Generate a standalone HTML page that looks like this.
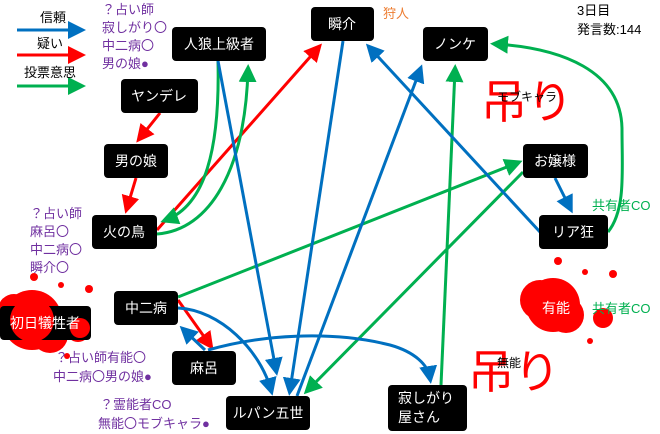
<!DOCTYPE html>
<html><head><meta charset="utf-8"><style>
body{margin:0;background:#fff;}
svg{display:block;font-family:"Liberation Sans","Noto Sans CJK JP",sans-serif;}
.n{fill:#000;}
.t{fill:#fff;font-size:14px;text-anchor:middle;}
.p{fill:#7030a0;font-size:13px;}
</style></head><body>
<svg width="660" height="434" viewBox="0 0 660 434" xmlns="http://www.w3.org/2000/svg">
<defs>
<marker id="b" markerWidth="6" markerHeight="6" refX="4" refY="3" orient="auto" markerUnits="strokeWidth"><path d="M0,0L6,3L0,6z" fill="#0070c0"/></marker>
<marker id="r" markerWidth="6" markerHeight="6" refX="4" refY="3" orient="auto" markerUnits="strokeWidth"><path d="M0,0L6,3L0,6z" fill="#ff0000"/></marker>
<marker id="g" markerWidth="6" markerHeight="6" refX="4" refY="3" orient="auto" markerUnits="strokeWidth"><path d="M0,0L6,3L0,6z" fill="#00b050"/></marker>
</defs>
<g fill="none" stroke-width="3">
<!-- legend -->
<line x1="17" y1="30" x2="80" y2="30" stroke="#0070c0" marker-end="url(#b)"/>
<line x1="17" y1="55" x2="80" y2="55" stroke="#ff0000" marker-end="url(#r)"/>
<line x1="17" y1="86" x2="80" y2="86" stroke="#00b050" marker-end="url(#g)"/>
<!-- red -->
<line x1="160" y1="113" x2="140" y2="138" stroke="#f00" marker-end="url(#r)"/>
<line x1="136" y1="178" x2="127" y2="208" stroke="#f00" marker-end="url(#r)"/>
<line x1="157" y1="230" x2="318" y2="48" stroke="#f00" marker-end="url(#r)"/>
<line x1="178" y1="300" x2="210" y2="345" stroke="#f00" marker-end="url(#r)"/>
<!-- green -->
<path d="M218,61 C220,150 205,205 166,220" stroke="#00b050" marker-end="url(#g)"/>
<path d="M157,234 C210,230 245,170 248,70" stroke="#00b050" marker-end="url(#g)"/>
<line x1="178" y1="297" x2="517" y2="163" stroke="#00b050" marker-end="url(#g)"/>
<line x1="523" y1="172" x2="308" y2="390" stroke="#00b050" marker-end="url(#g)"/>
<line x1="441" y1="385" x2="455" y2="70" stroke="#00b050" marker-end="url(#g)"/>
<path d="M608,232 C626,210 622,170 622,130 C622,70 560,48 496,44" stroke="#00b050" marker-end="url(#g)"/>
<!-- blue -->
<line x1="218" y1="61" x2="276" y2="370" stroke="#0070c0" marker-end="url(#b)"/>
<line x1="343" y1="41" x2="290" y2="390" stroke="#0070c0" marker-end="url(#b)"/>
<line x1="297" y1="396" x2="420" y2="70" stroke="#0070c0" marker-end="url(#b)"/>
<line x1="540" y1="232" x2="370" y2="48" stroke="#0070c0" marker-end="url(#b)"/>
<line x1="555" y1="178" x2="570" y2="208" stroke="#0070c0" marker-end="url(#b)"/>
<line x1="205" y1="350" x2="184" y2="330" stroke="#0070c0" marker-end="url(#b)"/>
<path d="M178,308 C220,310 260,350 271,390" stroke="#0070c0" marker-end="url(#b)"/>
<path d="M208,350 C260,335 330,330 390,345 C415,352 428,365 430,378" stroke="#0070c0" marker-end="url(#b)"/>
</g>
<!-- blood -->
<g fill="#ff0000">
<circle cx="32" cy="320" r="30"/><circle cx="14" cy="310" r="16"/><circle cx="50" cy="335" r="18"/>
<circle cx="78" cy="330" r="12"/><circle cx="34" cy="277" r="4"/><circle cx="61" cy="285" r="3"/><circle cx="89" cy="289" r="4"/><circle cx="67" cy="356" r="3"/>
<circle cx="553" cy="305" r="27"/><circle cx="540" cy="300" r="20"/><circle cx="566" cy="315" r="18"/>
<circle cx="603" cy="318" r="10"/><circle cx="558" cy="261" r="4"/><circle cx="585" cy="272" r="3"/><circle cx="613" cy="274" r="4"/><circle cx="590" cy="341" r="3"/>
</g>
<!-- nodes -->
<rect class="n" x="172" y="27" width="94" height="34" rx="4"/><text class="t" x="219" y="49">人狼上級者</text>
<rect class="n" x="311" y="7" width="63" height="34" rx="4"/><text class="t" x="342" y="29">瞬介</text>
<rect class="n" x="423" y="27" width="65" height="34" rx="4"/><text class="t" x="455" y="49">ノンケ</text>
<rect class="n" x="121" y="79" width="77" height="34" rx="4"/><text class="t" x="159" y="101">ヤンデレ</text>
<rect class="n" x="104" y="144" width="64" height="34" rx="4"/><text class="t" x="136" y="166">男の娘</text>
<rect class="n" x="523" y="144" width="65" height="34" rx="4"/><text class="t" x="555" y="166">お嬢様</text>
<rect class="n" x="92" y="215" width="65" height="34" rx="4"/><text class="t" x="124" y="237">火の鳥</text>
<rect class="n" x="539" y="215" width="69" height="34" rx="4"/><text class="t" x="573" y="237">リア狂</text>
<rect class="n" x="114" y="291" width="64" height="34" rx="4"/><text class="t" x="146" y="313">中二病</text>
<rect class="n" x="0" y="306" width="91" height="34" rx="4"/>
<g fill="#ff0000"><circle cx="32" cy="320" r="22"/><circle cx="80" cy="328" r="10"/></g>
<text class="t" x="45" y="328">初日犠牲者</text>
<text class="t" x="556" y="313">有能</text>
<rect class="n" x="172" y="351" width="64" height="34" rx="4"/><text class="t" x="204" y="373">麻呂</text>
<rect class="n" x="226" y="396" width="84" height="34" rx="4"/><text class="t" x="268" y="418">ルパン五世</text>
<rect class="n" x="388" y="385" width="79" height="46" rx="4"/>
<text fill="#fff" font-size="14" x="398" y="403">寂しがり</text><text fill="#fff" font-size="14" x="398" y="422">屋さん</text>
<!-- labels -->
<g font-size="13" fill="#000" text-anchor="middle">
<text x="53" y="22">信頼</text><text x="50" y="48">疑い</text><text x="50" y="77">投票意思</text>
</g>
<g class="p">
<text x="102" y="14">？占い師</text><text x="102" y="32">寂しがり〇</text><text x="102" y="50">中二病〇</text><text x="102" y="68">男の娘●</text>
<text x="30" y="218">？占い師</text><text x="30" y="236">麻呂〇</text><text x="30" y="254">中二病〇</text><text x="30" y="272">瞬介〇</text>
<text x="55" y="362">？占い師有能〇</text><text x="53" y="381">中二病〇男の娘●</text>
<text x="100" y="409">？霊能者CO</text><text x="98" y="428">無能〇モブキャラ●</text>
</g>
<text x="383" y="18" font-size="13" fill="#ed7d31">狩人</text>
<text x="577" y="15" font-size="13" fill="#000">3日目</text>
<text x="577" y="34" font-size="13" fill="#000">発言数:144</text>
<text x="592" y="210" font-size="13" fill="#00b050">共有者CO</text>
<text x="592" y="313" font-size="13" fill="#00b050">共有者CO</text>
<text x="481" y="118" font-size="46" fill="#ff0000">吊り</text>
<text x="497" y="101" font-size="12" fill="#000">モブキャラ</text>
<text x="468" y="388" font-size="46" fill="#ff0000">吊り</text>
<text x="497" y="367" font-size="12" fill="#000">無能</text>
</svg>
</body></html>
